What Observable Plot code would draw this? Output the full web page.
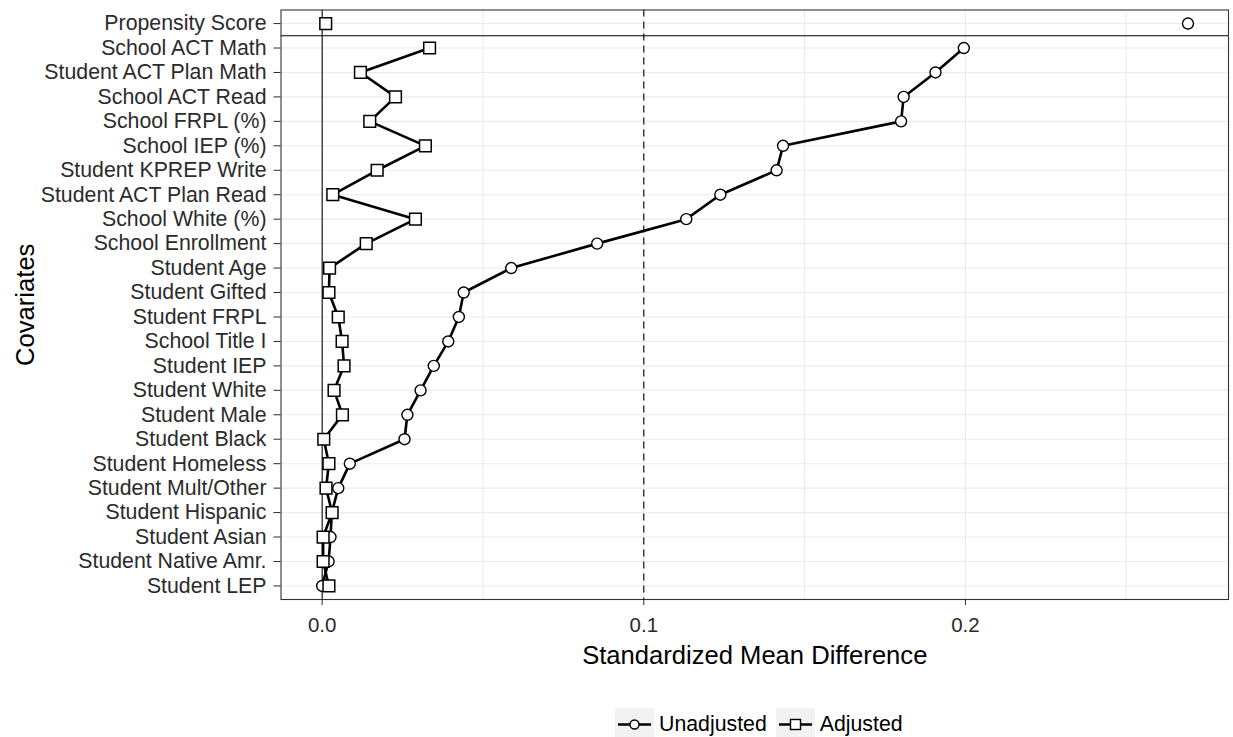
<!DOCTYPE html>
<html>
<head>
<meta charset="utf-8">
<script src="https://cdn.jsdelivr.net/npm/d3@7"></script>
<script src="https://cdn.jsdelivr.net/npm/@observablehq/plot@0.6"></script>
<style>
  body { margin: 0; background: #fff; font-family: "Liberation Sans", Arial, sans-serif; }
  #fig { position: relative; width: 1233px; height: 737px; overflow: hidden; }
  .legend { position: absolute; left: 615px; top: 708px; display: flex; align-items: center; font-size: 21.3px; color: #000; }
  .legend .item { display: flex; align-items: center; }
  .legend .key { width: 39px; height: 33px; background: #F2F2F2; margin-right: 5px; }
  .legend .item + .item { margin-left: 9px; }
</style>
</head>
<body>
<div id="fig"></div>
<script>
// Covariates, top to bottom
const covariates = [
  "Propensity Score",
  "School ACT Math",
  "Student ACT Plan Math",
  "School ACT Read",
  "School FRPL (%)",
  "School IEP (%)",
  "Student KPREP Write",
  "Student ACT Plan Read",
  "School White (%)",
  "School Enrollment",
  "Student Age",
  "Student Gifted",
  "Student FRPL",
  "School Title I",
  "Student IEP",
  "Student White",
  "Student Male",
  "Student Black",
  "Student Homeless",
  "Student Mult/Other",
  "Student Hispanic",
  "Student Asian",
  "Student Native Amr.",
  "Student LEP"
];

// Absolute standardized mean differences before matching
const unadjusted = [
  0.2692, 0.1995, 0.1907, 0.1808, 0.1800, 0.1433, 0.1413, 0.1238, 0.1132,
  0.0855, 0.0588, 0.0440, 0.0425, 0.0392, 0.0347, 0.0306, 0.0265, 0.0256,
  0.0086, 0.0050, 0.0030, 0.0026, 0.0020, 0.0000
];

// Absolute standardized mean differences after matching
const adjusted = [
  0.0011, 0.0334, 0.0119, 0.0228, 0.0148, 0.0321, 0.0171, 0.0033, 0.0290,
  0.0137, 0.0023, 0.0021, 0.0050, 0.0062, 0.0068, 0.0037, 0.0063, 0.0005,
  0.0021, 0.0012, 0.0031, 0.0003, 0.0003, 0.0021
];

const seriesNames = ["Unadjusted", "Adjusted"];
const xTicks = [0, 0.1, 0.2];
const xGrid = [0.05, 0.1, 0.15, 0.2, 0.25];
const threshold = 0.1;
const xDomain = [-0.0128, 0.2818];

// Long-format table
const rows = covariates.flatMap((c, i) => [
  {covariate: c, series: seriesNames[0], smd: unadjusted[i]},
  {covariate: c, series: seriesNames[1], smd: adjusted[i]}
]);
// The propensity score is shown as separate points, not joined to the covariate lines
const lineRows = rows.filter(d => d.covariate !== covariates[0]);

const width = 1233, height = 700;
const marginTop = 9.5, marginBottom = 101, marginLeft = 280.5, marginRight = 5;
const yPad = 0.555;
const step = (height - marginBottom - marginTop) / (covariates.length - 1 + 2 * yPad);

const chart = Plot.plot({
  width, height, marginTop, marginBottom, marginLeft, marginRight,
  style: {fontFamily: "'Liberation Sans', Arial, sans-serif", color: "#2b2b2b", background: "#fff"},
  x: {domain: xDomain},
  y: {type: "point", domain: covariates, padding: yPad, round: false},
  marks: [
    // panel grid
    Plot.ruleY(covariates, {y: d => d, stroke: "#EBEBEB", strokeWidth: 1.1}),
    Plot.ruleX(xGrid, {x: d => d, stroke: "#EBEBEB", strokeWidth: 1.1}),
    // reference lines
    Plot.ruleX([0], {x: d => d, stroke: "#000", strokeWidth: 1.1}),
    Plot.ruleX([threshold], {x: d => d, stroke: "#000", strokeWidth: 1.1, strokeDasharray: "7,5"}),
    Plot.ruleY([covariates[0]], {y: d => d, dy: step / 2, stroke: "#000", strokeWidth: 1.1}),
    // series lines
    Plot.line(lineRows, {x: "smd", y: "covariate", z: "series", stroke: "#000", strokeWidth: 2.6}),
    // points
    Plot.dot(rows.filter(d => d.series === seriesNames[0]),
      {x: "smd", y: "covariate", symbol: "circle", r: 5.5, fill: "#fff", stroke: "#000", strokeWidth: 1.4}),
    Plot.dot(rows.filter(d => d.series === seriesNames[1]),
      {x: "smd", y: "covariate", symbol: "square", r: 6.6, fill: "#fff", stroke: "#000", strokeWidth: 1.5}),
    Plot.frame({stroke: "#333", strokeWidth: 1.1}),
    // axes
    Plot.axisX({ticks: xTicks, tickFormat: d3.format(".1f"), tickSize: 6, tickPadding: 12, fontSize: 20.5, label: null}),
    Plot.axisY({tickSize: 7, tickPadding: 7.5, fontSize: 21.3, label: null}),
    // axis titles
    Plot.text(["Standardized Mean Difference"], {text: d => d, frameAnchor: "bottom", dy: 64, lineAnchor: "bottom", fontSize: 25.6, fill: "#000"}),
    Plot.text(["Covariates"], {text: d => d, frameAnchor: "left", textAnchor: "middle", rotate: -90, dx: -247.5, lineAnchor: "bottom", fontSize: 25.6, fill: "#000"})
  ]
});

const fig = document.getElementById("fig");
fig.appendChild(chart);

// Legend below the chart
const legend = d3.select(fig).append("div").attr("class", "legend");
seriesNames.forEach((name, i) => {
  const item = legend.append("div").attr("class", "item");
  const key = item.append("svg").attr("class", "key").attr("width", 39).attr("height", 33);
  key.append("line").attr("x1", 3).attr("x2", 36).attr("y1", 16.5).attr("y2", 16.5)
    .attr("stroke", "#000").attr("stroke-width", 2.6);
  if (i === 0) {
    key.append("circle").attr("cx", 19.5).attr("cy", 16.5).attr("r", 4.5)
      .attr("fill", "#fff").attr("stroke", "#000").attr("stroke-width", 1.4);
  } else {
    key.append("rect").attr("x", 14.5).attr("y", 11.5).attr("width", 10).attr("height", 10)
      .attr("fill", "#fff").attr("stroke", "#000").attr("stroke-width", 1.4);
  }
  item.append("span").text(name);
});
</script>
</body>
</html>
